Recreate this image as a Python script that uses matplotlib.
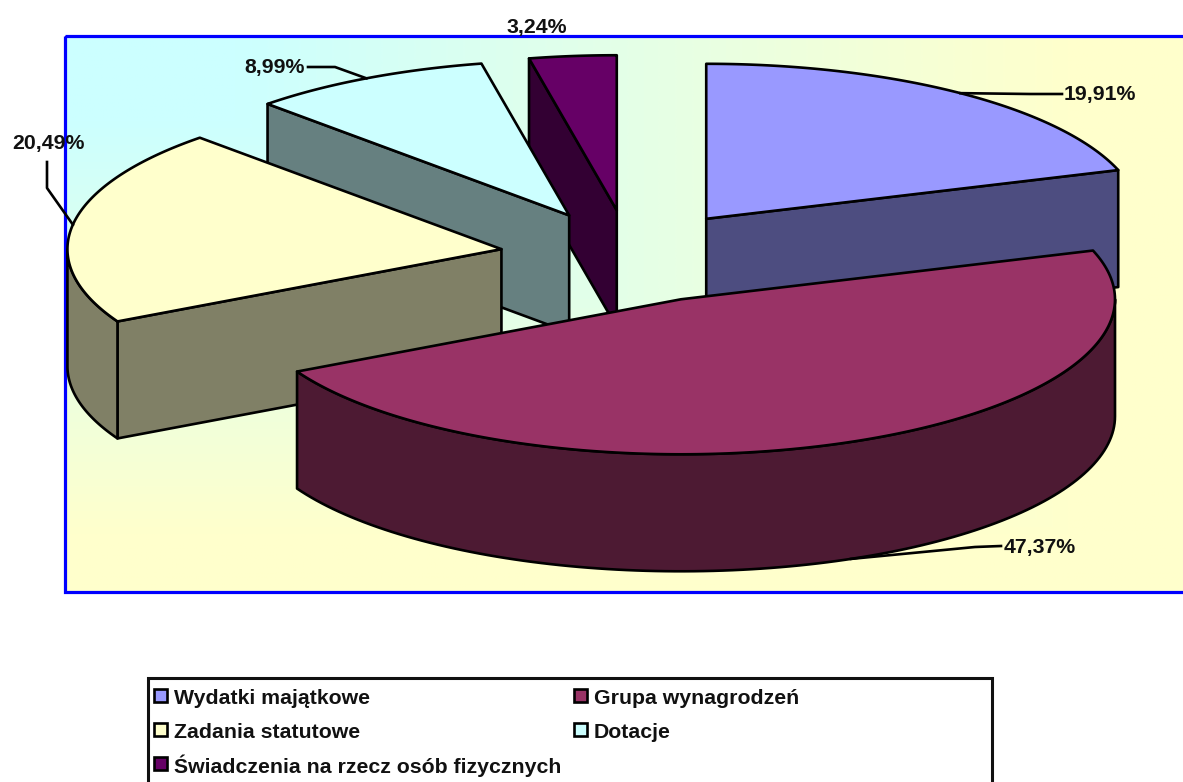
import numpy as np
import matplotlib
matplotlib.use('Agg')
import matplotlib.pyplot as plt
from matplotlib.colors import LinearSegmentedColormap, to_rgb
from matplotlib.patches import Polygon, Rectangle

plt.rcParams['font.family'] = ['Liberation Sans', 'DejaVu Sans']

# data
categories = ['Wydatki majątkowe', 'Grupa wynagrodzeń', 'Zadania statutowe', 'Dotacje',
              'Świadczenia na rzecz osób fizycznych']
values = [19.91, 47.37, 20.49, 8.99, 3.24]
labels = ['19,91%', '47,37%', '20,49%', '8,99%', '3,24%']
colors = ['#9999FF', '#993366', '#FFFFCC', '#CCFFFF', '#660066']

# pie geometry, in pixels of the figure
CX, CY = 630, 256.5
RX, RY = 434, 155
DEPTH = 117
EXPLODE = 0.30
LW = 1.9
FS = 15.3

fig = plt.figure(figsize=(11.83, 7.82), dpi=100)
ax = fig.add_axes([0, 0, 1, 1])
ax.set_xlim(0, 1183)
ax.set_ylim(782, 0)
ax.axis('off')

# plot area, gradient runs out from the top left corner
area = Rectangle((65, 36), 1140, 556, fill=False, edgecolor='#0000FF', linewidth=2.3, zorder=2)
ax.add_patch(area)
gx, gy = np.meshgrid(np.linspace(0, 1, 600), np.linspace(0, 1, 400))
grad = np.clip((np.maximum(gx, gy) - 0.15) / 0.75, 0, 1)
cmap = LinearSegmentedColormap.from_list('bg', ['#CCFFFF', '#FFFFCC'])
ax.imshow(grad, extent=(65, 1183, 592, 36), cmap=cmap, aspect='auto', zorder=1)
ax.set_xlim(0, 1183)
ax.set_ylim(782, 0)


def rim(ox, oy, t):
    return ox + RX * np.sin(t), oy - RY * np.cos(t)


def draw_poly(pts, color, z):
    ax.add_patch(Polygon(pts, closed=True, facecolor=color, edgecolor='black',
                         linewidth=LW, joinstyle='round', zorder=z))


edges = np.cumsum([0] + values) / sum(values) * 2 * np.pi
apex = []
for i in range(len(values)):
    mid = (edges[i] + edges[i + 1]) / 2
    apex.append((CX + EXPLODE * RX * np.sin(mid), CY - EXPLODE * RY * np.cos(mid)))

# painter order, back to front
order = [4, 3, 0, 2, 1]
for n, i in enumerate(order):
    z = 3 + n
    t0, t1 = edges[i], edges[i + 1]
    ox, oy = apex[i]
    dark = tuple(c * 0.5 for c in to_rgb(colors[i]))

    # flat side walls that face the viewer
    for t, show in ((t0, np.sin(t0) < -1e-6), (t1, np.sin(t1) > 1e-6)):
        if show:
            x, y = rim(ox, oy, t)
            draw_poly([(ox, oy), (x, y), (x, y + DEPTH), (ox, oy + DEPTH)], dark, z)

    # curved outer wall, only the front half of the ellipse
    a, b = max(t0, np.pi / 2), min(t1, 3 * np.pi / 2)
    if a < b:
        tt = np.linspace(a, b, 120)
        x, y = rim(ox, oy, tt)
        pts = np.column_stack([np.r_[x, x[::-1]], np.r_[y, y[::-1] + DEPTH]])
        draw_poly(pts, dark, z)

    # top face
    tt = np.linspace(t0, t1, 200)
    x, y = rim(ox, oy, tt)
    draw_poly(np.column_stack([np.r_[ox, x], np.r_[oy, y]]), colors[i], z)

# data labels and leader lines
label_pos = [(1100, 94.5), (1040, 547), (48, 144), (275, 68), (537, 27)]
leader_elbow = [[(1062, 94), (1030, 94)], [(1001, 546), (975, 547)], [(47, 162), (47, 188)],
                [(308, 67), (335, 67)], None]
for i in range(len(values)):
    ax.text(label_pos[i][0], label_pos[i][1], labels[i], fontsize=FS, fontweight='bold',
            ha='center', va='center', color='#111111', zorder=12)
    if leader_elbow[i] is None:
        continue
    mid = (edges[i] + edges[i + 1]) / 2
    ex, ey = rim(apex[i][0], apex[i][1], mid)
    if np.pi / 2 < mid < 3 * np.pi / 2:
        ey += DEPTH
    xs = [p[0] for p in leader_elbow[i]] + [ex]
    ys = [p[1] for p in leader_elbow[i]] + [ey]
    ax.plot(xs, ys, color='black', lw=LW, zorder=11)

# legend box, its lower edge falls outside the picture
ax.add_patch(Rectangle((148, 678), 844, 120, facecolor='white', edgecolor='#111111',
                       linewidth=2.2, zorder=2))
legend_x = [154, 574]
legend_y = [698, 732, 766]
legend_slots = [(0, 0), (1, 0), (0, 1), (1, 1), (0, 2)]
for i, (c, r) in enumerate(legend_slots):
    ax.add_patch(Rectangle((legend_x[c], legend_y[r] - 9), 13, 13, facecolor=colors[i],
                           edgecolor='black', linewidth=1.9, zorder=3))
    ax.text(legend_x[c] + 20, legend_y[r], categories[i], fontsize=FS, fontweight='bold',
            ha='left', va='center', color='#111111', zorder=3)

fig.savefig('out.png', dpi=100)
